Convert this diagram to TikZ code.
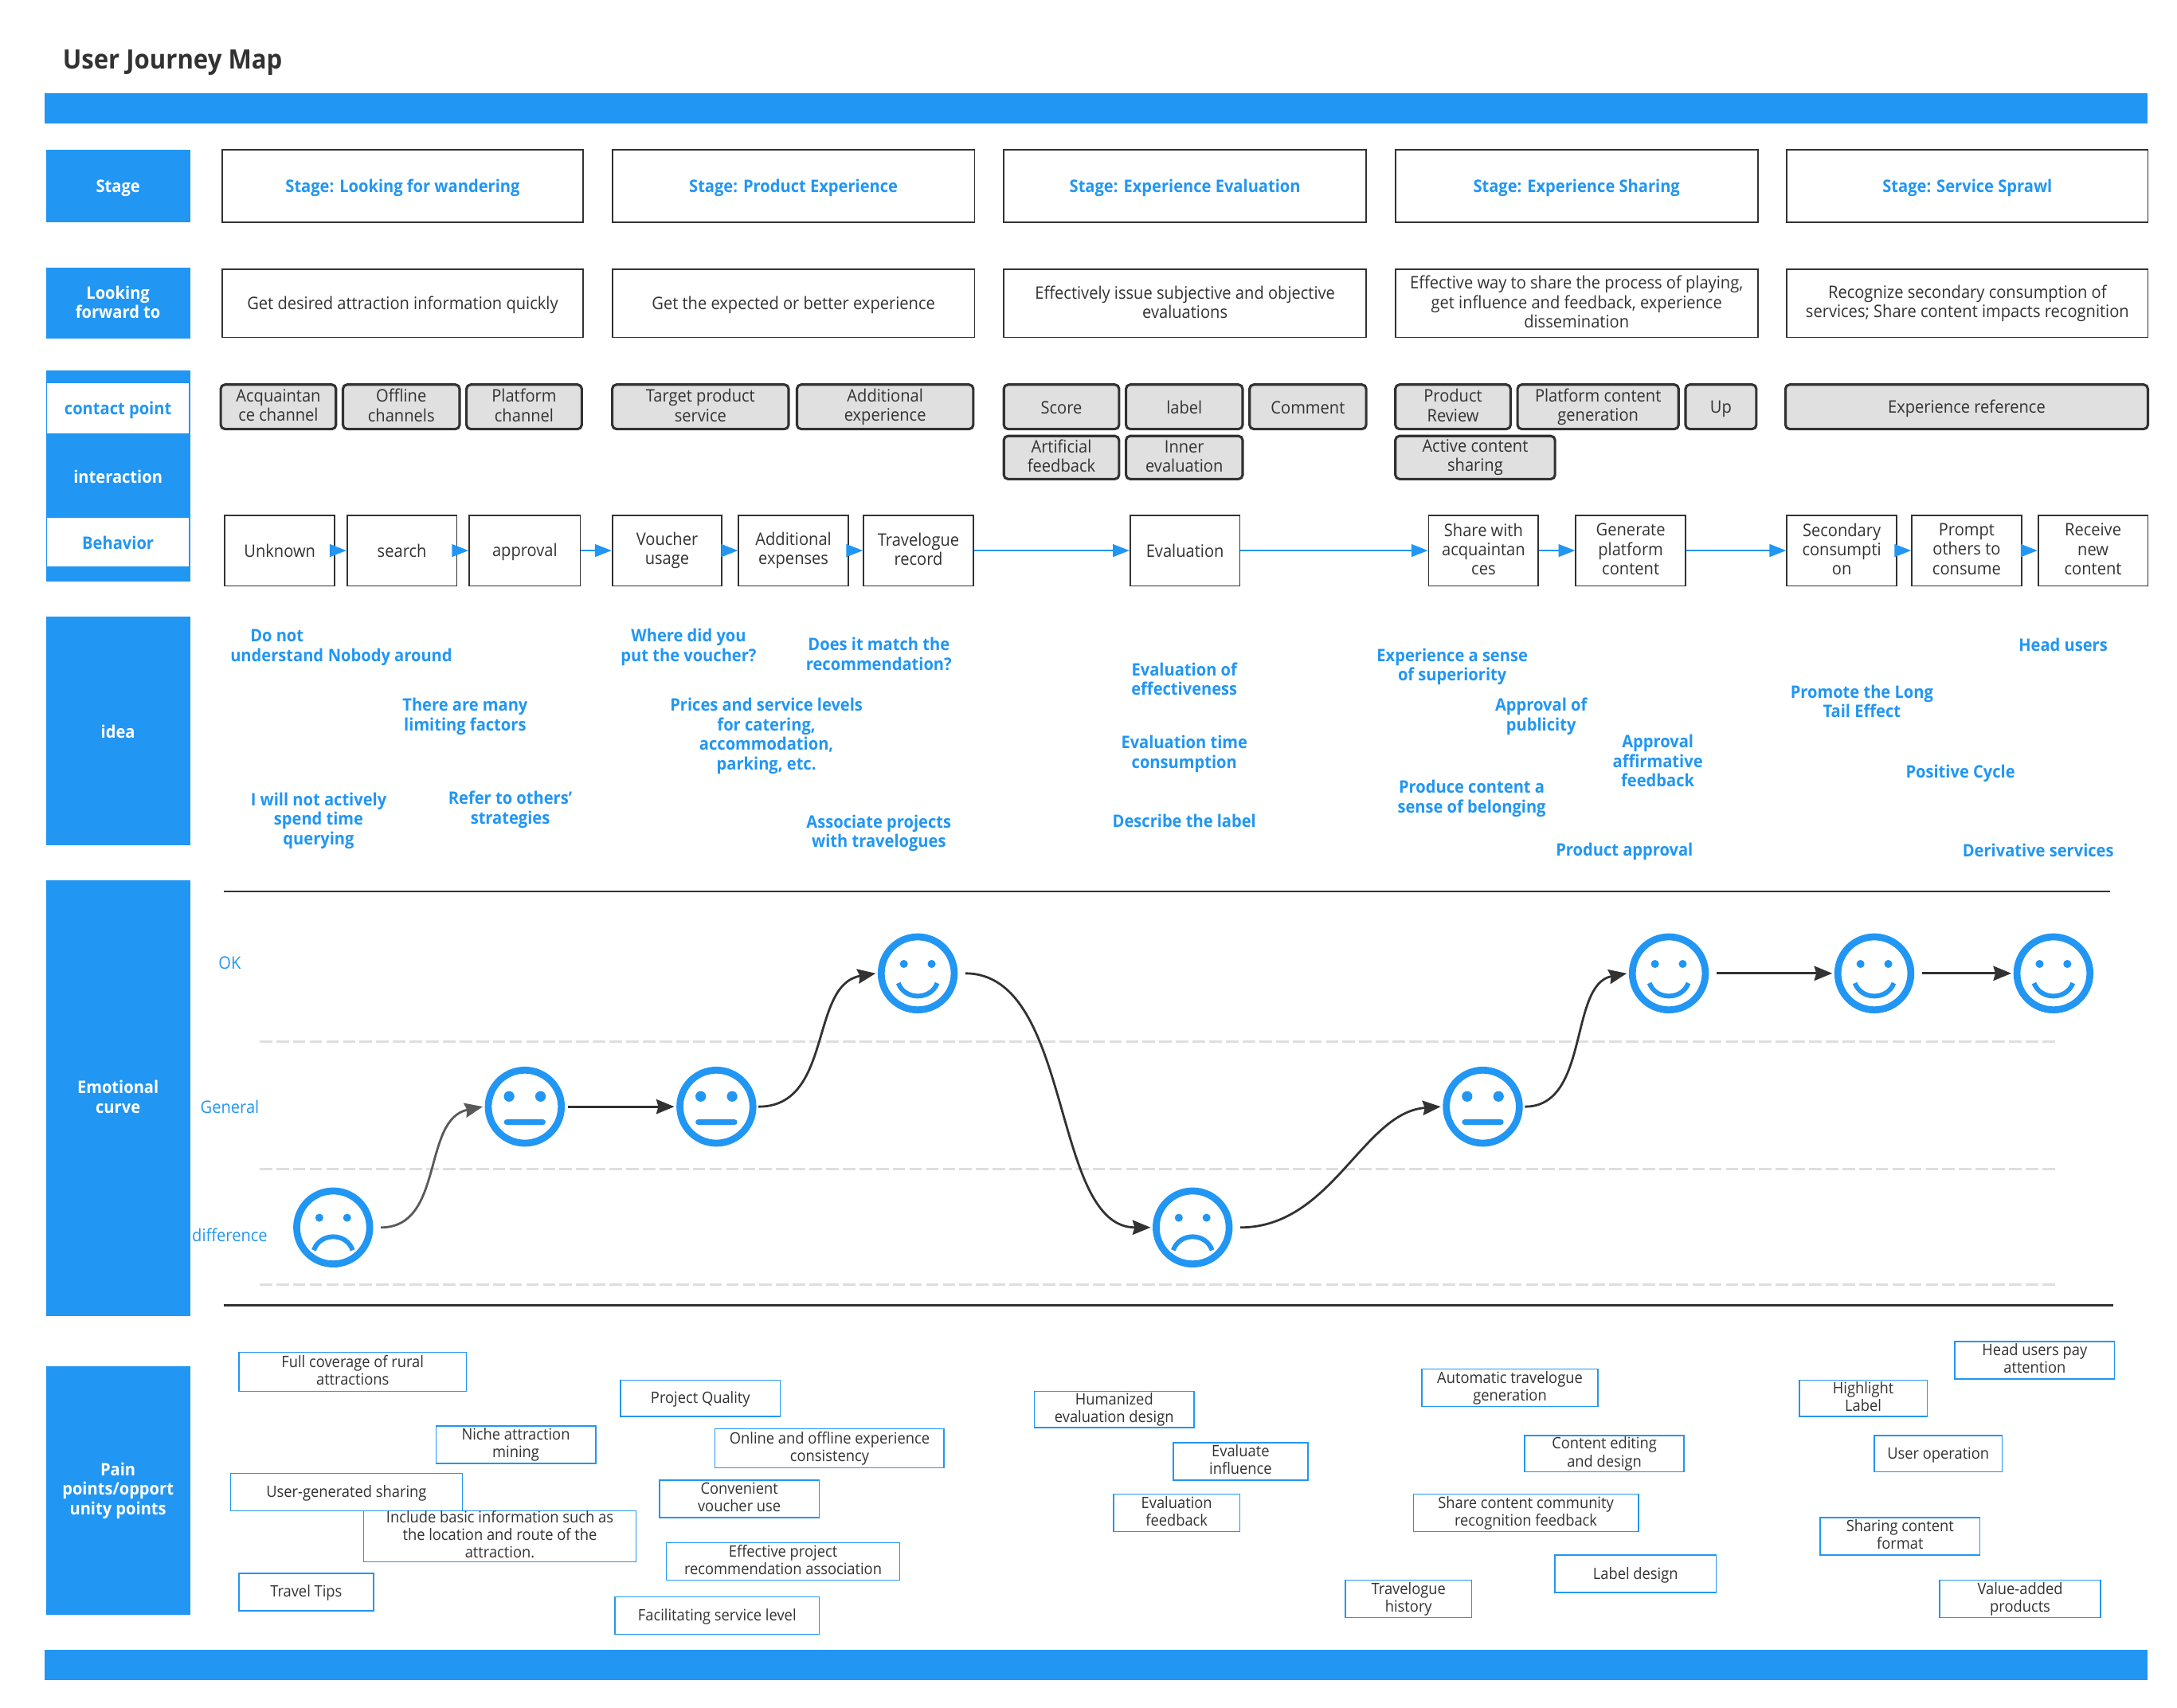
\documentclass[tikz,border=0pt]{standalone}
\usepackage{fontspec}
\setmainfont[FakeStretch=0.93]{Open Sans}
\usetikzlibrary{arrows.meta,shapes.geometric}
\definecolor{jblue}{HTML}{2196F3}
\definecolor{jink}{HTML}{323232}
\definecolor{jgray}{HTML}{E0E0E0}
\definecolor{jdash}{HTML}{DEDEDE}
\newcommand{\bx}[7][]{\node[#1,minimum width={(#5-#3)*1pt},minimum height={(#6-#4)*1pt}] (#2) at ({(#3+#5)/2},{(#4+#6)/2}) {#7};}
\newcommand{\bodyfont}{\fontsize{12.4}{14}\selectfont\def\jh{.96em}\def\jd{.169em}}
\newcommand{\smallfont}{\fontsize{11.3}{12.7}\selectfont\def\jh{.887em}\def\jd{.242em}}
\newcommand{\jstrut}{\vrule height \jh depth \jd width 0pt\relax}
\newcommand{\mkface}[4]{%
  \node[facering] (#1) at (#2,#3) {};
  \ifnum#4=1
    \fill[jblue] ([shift={(-10,-6.8)}]#1.center) circle (2.9) ([shift={(10,-6.8)}]#1.center) circle (2.9);
    \draw[jblue,line width=3.4] ([shift={(-14,7)}]#1.center) .. controls +(4.5,12.5) and +(-4.5,12.5) .. ([shift={(14,7)}]#1.center);
  \fi
  \ifnum#4=0
    \fill[jblue] ([shift={(-11.3,-7.4)}]#1.center) circle (3.8) ([shift={(11.3,-7.4)}]#1.center) circle (3.8);
    \draw[jblue,line width=4,line cap=round] ([shift={(-13,11.3)}]#1.center) -- ([shift={(13,11.3)}]#1.center);
  \fi
  \ifnum#4=-1
    \fill[jblue] ([shift={(-10,-7)}]#1.center) circle (2.9) ([shift={(10,-7)}]#1.center) circle (2.9);
    \draw[jblue,line width=3.4] ([shift={(-14,16.4)}]#1.center) .. controls +(4.5,-13) and +(-4.5,-13) .. ([shift={(14,16.4)}]#1.center);
  \fi}
\tikzset{
  x=1pt,y=-1pt,
  base/.style={align=center,inner sep=0pt,text=jink,font=\bodyfont,execute at begin node=\jstrut,execute at end node=\jstrut},
  headbox/.style={base,fill=jblue,text=white,font=\bodyfont\bfseries},
  whitebox/.style={base,fill=white,text=jblue,font=\bodyfont\bfseries},
  stagebox/.style={base,draw=jink,line width=1pt,text=jblue,font=\bodyfont\bfseries},
  goalbox/.style={base,draw=jink,line width=1pt},
  touchbox/.style={base,draw=jink,fill=jgray,line width=1.8pt,rounded corners=3pt},
  actbox/.style={base,draw=jink,line width=1pt},
  painbox/.style={base,draw=jblue,line width=.9pt,font=\smallfont},
  idea/.style={base,text=jblue,font=\bodyfont\bfseries},
  level/.style={base,text=jblue},
  flow/.style={jblue,line width=1.4pt,-{Triangle[length=12pt,width=9pt]}},
  mood/.style={jink,line width=1.6pt,-{Stealth[length=13pt,width=10.5pt,inset=1.5pt]},shorten <=4pt},
  facering/.style={circle,draw=jblue,line width=5pt,minimum size=52.6pt,inner sep=0pt,outer sep=4pt},
}
\begin{document}
\begin{tikzpicture}
\useasboundingbox (0,0) rectangle (1568,1230);
\node[anchor=west,inner sep=0pt,text=jink,font=\fontsize{19.2}{22}\selectfont\bfseries] (title) at (45,45) {User Journey Map};
\bx[headbox]{topbar}{32}{67}{1547}{89}{}
\bx[headbox]{botbar}{32}{1188}{1547}{1210}{}
% left column
\bx[headbox]{lstage}{33}{108}{137}{160}{Stage}
\bx[headbox]{llook}{33}{193}{137}{244}{Looking\\forward to}
\bx[headbox]{lblock}{33}{267}{137}{419}{}
\bx[whitebox]{lcontact}{34}{276}{136}{312}{contact point}
\node[headbox,fill=none] (linter) at (85,343) {interaction};
\bx[whitebox]{lbehav}{34}{373}{136}{408}{Behavior}
\bx[headbox]{lidea}{33}{444}{137}{609}{idea}
\bx[headbox]{lemo}{33}{634}{137}{948}{Emotional\\curve}
\bx[headbox]{lpain}{33}{984}{137}{1163}{Pain\\points/opport\\unity points}
% stages
\bx[stagebox]{s1}{160}{108}{420}{160}{Stage: Looking for wandering}
\bx[stagebox]{s2}{441}{108}{702}{160}{Stage: Product Experience}
\bx[stagebox]{s3}{723}{108}{984}{160}{Stage: Experience Evaluation}
\bx[stagebox]{s4}{1005}{108}{1266}{160}{Stage: Experience Sharing}
\bx[stagebox]{s5}{1287}{108}{1547}{160}{Stage: Service Sprawl}
% goals
\bx[goalbox]{g1}{160}{194}{420}{243}{Get desired attraction information quickly}
\bx[goalbox]{g2}{441}{194}{702}{243}{Get the expected or better experience}
\bx[goalbox]{g3}{723}{194}{984}{243}{Effectively issue subjective and objective\\evaluations}
\bx[goalbox]{g4}{1005}{194}{1266}{243}{Effective way to share the process of playing,\\get influence and feedback, experience\\dissemination}
\bx[goalbox]{g5}{1287}{194}{1547}{243}{Recognize secondary consumption of\\services; Share content impacts recognition}
% touch points
\bx[touchbox]{t1}{159}{277}{242}{309}{Acquaintan\\ce channel}
\bx[touchbox]{t2}{247}{277}{331}{309}{Offline\\channels}
\bx[touchbox]{t3}{336}{277}{419}{309}{Platform\\channel}
\bx[touchbox]{t4}{441}{277}{568}{309}{Target product\\service}
\bx[touchbox]{t5}{574}{277}{701}{309}{Additional\\experience}
\bx[touchbox]{t6}{723}{277}{806}{309}{Score}
\bx[touchbox]{t7}{811}{277}{895}{309}{label}
\bx[touchbox]{t8}{900}{277}{984}{309}{Comment}
\bx[touchbox]{t9}{723}{314}{806}{345}{Artificial\\feedback}
\bx[touchbox]{t10}{811}{314}{895}{345}{Inner\\evaluation}
\bx[touchbox]{t11}{1005}{277}{1088}{309}{Product\\Review}
\bx[touchbox]{t12}{1093}{277}{1209}{309}{Platform content\\generation}
\bx[touchbox]{t13}{1214}{277}{1265}{309}{Up}
\bx[touchbox]{t14}{1005}{314}{1120}{345}{Active content\\sharing}
\bx[touchbox]{t15}{1286}{277}{1547}{309}{Experience reference}
% behaviours
\bx[actbox]{a1}{162}{371}{241}{422}{Unknown}
\bx[actbox]{a2}{250}{371}{329}{422}{search}
\bx[actbox]{a3}{338}{371}{418}{422}{approval}
\bx[actbox]{a4}{441}{371}{520}{422}{Voucher\\usage}
\bx[actbox]{a5}{532}{371}{611}{422}{Additional\\expenses}
\bx[actbox]{a6}{622}{371}{701}{422}{Travelogue\\record}
\bx[actbox]{a7}{814}{371}{893}{422}{Evaluation}
\bx[actbox]{a8}{1029}{371}{1108}{422}{Share with\\acquaintan\\ces}
\bx[actbox]{a9}{1135}{371}{1214}{422}{Generate\\platform\\content}
\bx[actbox]{a10}{1287}{371}{1366}{422}{Secondary\\consumpti\\on}
\bx[actbox]{a11}{1377}{371}{1456}{422}{Prompt\\others to\\consume}
\bx[actbox]{a12}{1468}{371}{1547}{422}{Receive\\new\\content}
\foreach \p/\q in {a1/a2,a2/a3,a3/a4,a4/a5,a5/a6,a6/a7,a7/a8,a8/a9,a9/a10,a10/a11,a11/a12}
  \draw[flow] (\p) -- (\q);
% ideas
\node[idea] (i1) at (199.5,466) {Do not\\understand};
\node[idea] (i2) at (281,472) {Nobody around};
\node[idea] (i3) at (335,516) {There are many\\limiting factors};
\node[idea] (i4) at (229.5,591) {I will not actively\\spend time\\querying};
\node[idea] (i5) at (367.5,583) {Refer to others'\\strategies};
\node[idea] (i6) at (496,466) {Where did you\\put the voucher?};
\node[idea] (i7) at (633,472) {Does it match the\\recommendation?};
\node[idea] (i8) at (552,530) {Prices and service levels\\for catering,\\accommodation,\\parking, etc.};
\node[idea] (i9) at (633,600) {Associate projects\\with travelogues};
\node[idea] (i10) at (853,490) {Evaluation of\\effectiveness};
\node[idea] (i11) at (853,543) {Evaluation time\\consumption};
\node[idea] (i12) at (853,591) {Describe the label};
\node[idea] (i13) at (1046,480) {Experience a sense\\of superiority};
\node[idea] (i14) at (1110,516) {Approval of\\publicity};
\node[idea] (i15) at (1194,549) {Approval\\affirmative\\feedback};
\node[idea] (i16) at (1060,575) {Produce content a\\sense of belonging};
\node[idea] (i17) at (1170,612) {Product approval};
\node[idea] (i18) at (1341,506) {Promote the Long\\Tail Effect};
\node[idea] (i19) at (1486,464) {Head users};
\node[idea] (i20) at (1412,556) {Positive Cycle};
\node[idea] (i21) at (1468,612) {Derivative services};
% emotion chart
\coordinate (r1a) at (161,642); \coordinate (r1b) at (1520,642);
\coordinate (r2a) at (161,940); \coordinate (r2b) at (1522,940);
\draw[jink,line width=1.4pt] (r1a) -- (r1b);
\draw[jink,line width=1.4pt] (r2a) -- (r2b);
\foreach \yy in {750,842,925}{
  \coordinate (da) at (187,\yy); \coordinate (db) at (1481,\yy);
  \draw[jdash,line width=1.6pt,dash pattern=on 9pt off 3pt] (da) -- (db);
}
\node[level] (l1) at (165.5,693) {OK};
\node[level] (l2) at (165.5,797) {General};
\node[level] (l3) at (165.5,889) {difference};
\mkface{f1}{240}{884}{-1}
\mkface{f2}{378}{797}{0}
\mkface{f3}{516}{797}{0}
\mkface{f4}{661}{701}{1}
\mkface{f5}{859}{884}{-1}
\mkface{f6}{1068}{797}{0}
\mkface{f7}{1202}{701}{1}
\mkface{f8}{1350}{701}{1}
\mkface{f9}{1479}{701}{1}
\draw[mood,draw=black!65,-{Stealth[length=13pt,width=10.5pt,inset=1.5pt,black!65]}] (f1.east) .. controls +(50,0) and +(-44,9) .. (f2.west);
\draw[mood,shorten <=1pt] (f2.east) -- (f3.west);
\draw[mood,shorten <=0pt] (f3.east) .. controls +(54,0) and +(-48,8) .. (f4.west);
\draw[mood] (f4.east) .. controls +(82,0) and +(-72,0) .. (f5.west);
\draw[mood] (f5.east) .. controls +(70,0) and +(-56,4) .. (f6.west);
\draw[mood,shorten <=0pt] (f6.east) .. controls +(47,0) and +(-42,8) .. (f7.west);
\draw[mood] (f7.east) -- (f8.west);
\draw[mood] (f8.east) -- (f9.west);
% pain points
\bx[painbox]{p1}{172}{974}{336}{1002}{Full coverage of rural\\attractions}
\bx[painbox]{p2}{447}{994}{562}{1020}{Project Quality}
\bx[painbox]{p3}{314}{1027}{429}{1054}{Niche attraction\\mining}
\bx[painbox]{p4}{515}{1029}{680}{1057}{Online and offline experience\\consistency}
\bx[painbox]{p5}{166}{1061}{333}{1088}{User-generated sharing}
\bx[painbox]{p6}{262}{1093}{458}{1120}{Include basic information such as\\the location and route of the\\attraction.}
\bx[painbox]{p7}{475}{1066}{590}{1093}{Convenient\\voucher use}
\bx[painbox]{p8}{480}{1111}{648}{1138}{Effective project\\recommendation association}
\bx[painbox]{p9}{172}{1133}{269}{1160}{Travel Tips}
\bx[painbox]{p10}{443}{1150}{590}{1177}{Facilitating service level}
\bx[painbox]{p11}{745}{1002}{860}{1028}{Humanized\\evaluation design}
\bx[painbox]{p12}{845}{1039}{942}{1066}{Evaluate\\influence}
\bx[painbox]{p13}{802}{1076}{893}{1103}{Evaluation\\feedback}
\bx[painbox]{p14}{1024}{986}{1151}{1013}{Automatic travelogue\\generation}
\bx[painbox]{p15}{1098}{1034}{1213}{1060}{Content editing\\and design}
\bx[painbox]{p16}{1018}{1076}{1180}{1103}{Share content community\\recognition feedback}
\bx[painbox]{p17}{969}{1138}{1060}{1165}{Travelogue\\history}
\bx[painbox]{p18}{1120}{1120}{1236}{1147}{Label design}
\bx[painbox]{p19}{1296}{994}{1388}{1020}{Highlight\\Label}
\bx[painbox]{p20}{1408}{966}{1523}{993}{Head users pay\\attention}
\bx[painbox]{p21}{1350}{1034}{1442}{1060}{User operation}
\bx[painbox]{p22}{1311}{1093}{1426}{1120}{Sharing content\\format}
\bx[painbox]{p23}{1397}{1138}{1513}{1165}{Value-added\\products}
\end{tikzpicture}
\end{document}
